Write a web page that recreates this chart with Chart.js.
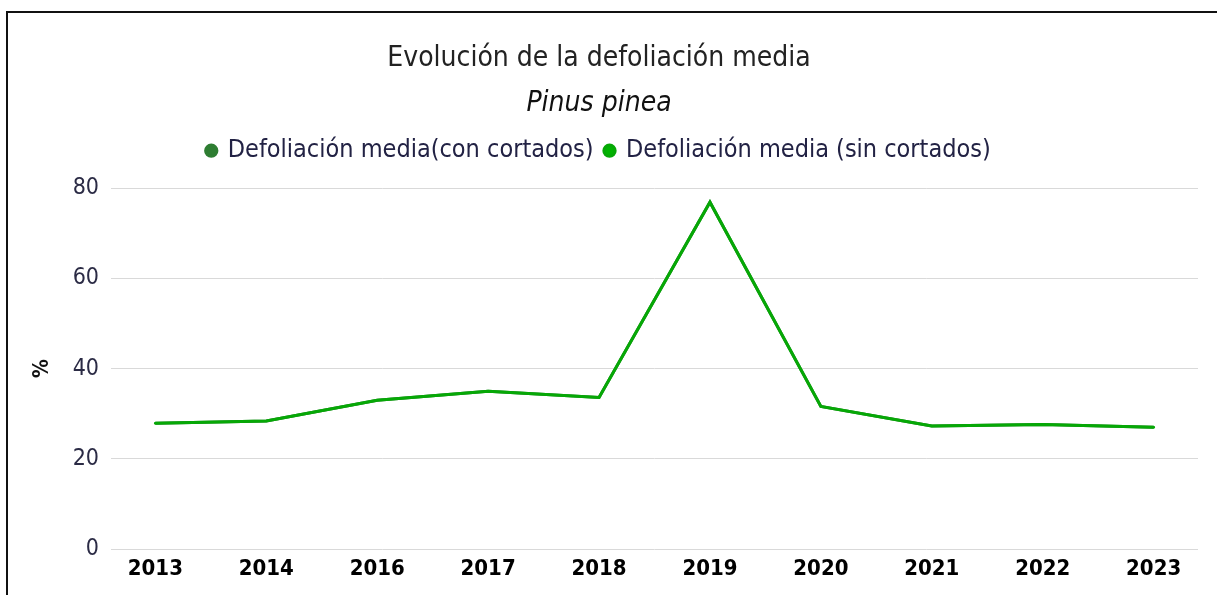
<!DOCTYPE html>
<html>
<head>
<meta charset="utf-8">
<script src="https://cdn.jsdelivr.net/npm/chart.js@4/dist/chart.umd.min.js"></script>
<style>
  html, body { margin: 0; padding: 0; background: #ffffff; overflow: hidden; }
  #wrap { position: relative; width: 1217px; height: 595px; }
  #frame { position: absolute; left: 6px; top: 11px; width: 1230px; height: 620px;
           border-left: 2px solid #111; border-top: 2px solid #111; pointer-events: none; }
  canvas { position: absolute; left: 0; top: 0; }
</style>
</head>
<body>
<div id="wrap">
  <canvas id="c" width="1217" height="595"></canvas>
  <div id="frame"></div>
</div>
<script>
const years = ['2013', '2014', '2016', '2017', '2018', '2019', '2020', '2021', '2022', '2023'];
const conCortados = [27.9, 28.4, 33.0, 35.0, 33.6, 76.9, 31.6, 27.3, 27.6, 27.0];
const sinCortados = [27.9, 28.4, 33.0, 35.0, 33.6, 76.9, 31.6, 27.3, 27.6, 27.0];
const yTicks = [0, 20, 40, 60, 80];
const titleText = 'Evolución de la defoliación media';
const subtitleText = 'Pinus pinea';
const seriesNames = ['Defoliación media(con cortados)', 'Defoliación media (sin cortados)'];
const yTitle = '%';

const FONT = "'DejaVu Sans Condensed', 'DejaVu Sans', sans-serif";

new Chart(document.getElementById('c'), {
  type: 'line',
  data: {
    datasets: [
      {
        label: seriesNames[0],
        data: conCortados.map((v, i) => ({ x: i, y: v })),
        xAxisID: 'x',
        yAxisID: 'y',
        borderColor: '#2e7d32',
        backgroundColor: '#2e7d32',
        borderWidth: 3,
        pointRadius: 0,
        tension: 0,
        order: 1
      },
      {
        label: seriesNames[1],
        data: sinCortados.map((v, i) => ({ x: i, y: v })),
        xAxisID: 'x',
        yAxisID: 'y',
        borderColor: '#06a806',
        backgroundColor: '#00b400',
        borderWidth: 3,
        pointRadius: 0,
        tension: 0,
        borderCapStyle: 'round',
        order: 0
      }
    ]
  },
  options: {
    responsive: false,
    animation: false,
    devicePixelRatio: 1,
    layout: { padding: { left: 0, right: 19, top: 0, bottom: 0 } },
    plugins: {
      title: {
        display: true,
        text: titleText,
        color: '#222222',
        font: { family: FONT, size: 28, weight: 'normal' },
        padding: { top: 42, bottom: 4 }
      },
      subtitle: {
        display: true,
        text: subtitleText,
        color: '#111111',
        font: { family: FONT, size: 28, style: 'italic' },
        padding: { top: 7, bottom: 6 }
      },
      legend: {
        display: true,
        labels: {
          usePointStyle: true,
          pointStyle: 'circle',
          boxWidth: 8,
          boxHeight: 8,
          padding: 12,
          color: '#222244',
          font: { family: FONT, size: 25 },
          sort: (a, b) => a.datasetIndex - b.datasetIndex
        }
      },
      tooltip: { enabled: false }
    },
    scales: {
      spacer: {
        type: 'linear',
        position: 'top',
        display: true,
        grid: { display: false, drawTicks: false },
        border: { display: false },
        ticks: { display: false },
        afterFit: s => { s.height = 15; }
      },
      x: {
        type: 'linear',
        position: 'bottom',
        min: -0.4,
        max: 9.4,
        afterBuildTicks: s => { s.ticks = years.map((_, i) => ({ value: i })); },
        afterFit: s => { s.height = 46; },
        grid: { display: false, tickLength: 0 },
        border: { display: false },
        ticks: {
          autoSkip: false,
          maxRotation: 0,
          padding: 7,
          color: '#000000',
          font: { family: FONT, size: 22, weight: 'bold' },
          callback: v => years[v]
        }
      },
      y: {
        min: 0,
        max: 80,
        afterBuildTicks: s => { s.ticks = yTicks.map(v => ({ value: v })); },
        afterFit: s => { s.width = 111; },
        grid: { color: '#d9d9d9', lineWidth: 1, drawTicks: false },
        border: { display: false },
        title: {
          display: true,
          text: yTitle,
          color: '#111111',
          font: { family: FONT, size: 21, weight: 'bold' },
          padding: { top: 30, bottom: 0 }
        },
        ticks: {
          padding: 12,
          color: '#2b2b45',
          font: { family: FONT, size: 23 }
        }
      }
    }
  }
});
</script>
</body>
</html>
